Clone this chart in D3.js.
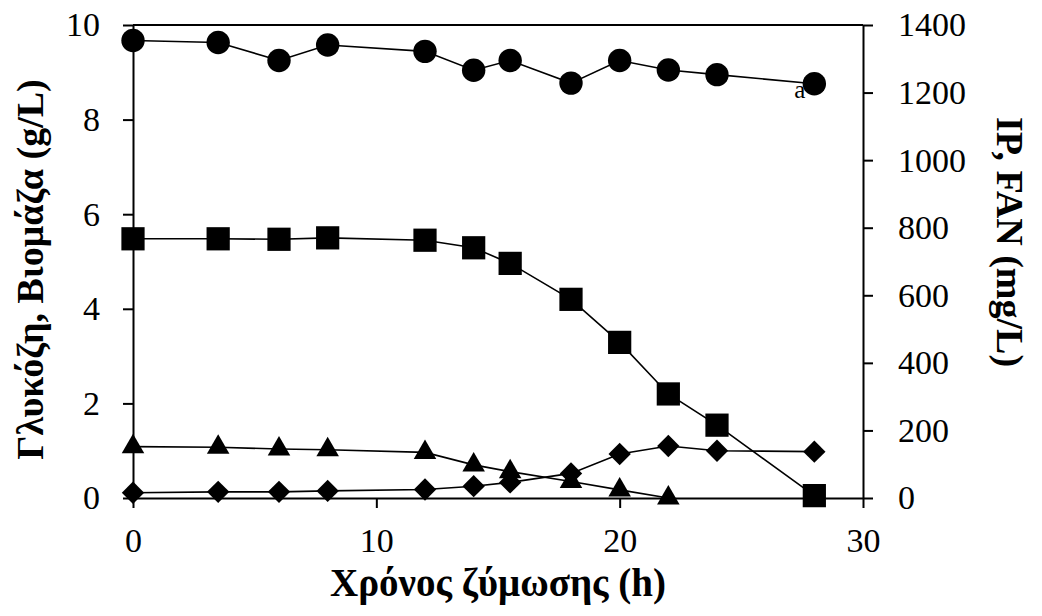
<!DOCTYPE html>
<html>
<head>
<meta charset="utf-8">
<script src="https://cdn.jsdelivr.net/npm/d3@7"></script>
<style>
  body { margin: 0; background: #fff; }
  text { font-family: "Liberation Serif", "Times New Roman", serif; fill: #000; }
</style>
</head>
<body>
<div id="wrapper"></div>
<script>
// time points (h)
const time = [0, 3.5, 6, 8, 12, 14, 15.5, 18, 20, 22, 24, 28]
// right axis, mg/L
const ip = [1354, 1348, 1295, 1341, 1322, 1266, 1295, 1228, 1295, 1267, 1253, 1226]
const fanTime = [0, 3.5, 6, 8, 12, 14, 15.5, 18, 20, 22]
const fan = [152, 150, 145, 143, 135, 98, 78, 49, 24, 0]
// left axis, g/L
const glucose = [5.48, 5.48, 5.47, 5.50, 5.45, 5.29, 4.96, 4.20, 3.29, 2.20, 1.54, 0.05]
const biomass = [0.11, 0.13, 0.13, 0.15, 0.18, 0.25, 0.33, 0.52, 0.93, 1.10, 1.00, 0.98]

const xTicks = [0, 10, 20, 30]
const yLeftTicks = [0, 2, 4, 6, 8, 10]
const yRightTicks = [0, 200, 400, 600, 800, 1000, 1200, 1400]

const xLabel = "Χρόνος ζύμωσης (h)"
const yLeftLabel = "Γλυκόζη, Βιομάζα (g/L)"
const yRightLabel = "IP, FAN (mg/L)"

function drawChart() {
    let dimensions = {
      width: 1042,
      height: 616,
      margin: { top: 25, right: 179, bottom: 118, left: 133 },
    }
    dimensions.boundedWidth = dimensions.width - dimensions.margin.left - dimensions.margin.right
    dimensions.boundedHeight = dimensions.height - dimensions.margin.top - dimensions.margin.bottom

    const wrapper = d3.select("#wrapper")
        .append("svg")
        .attr("width", dimensions.width)
        .attr("height", dimensions.height)

    const bounds = wrapper.append("g")
        .attr("transform", `translate(${dimensions.margin.left}, ${dimensions.margin.top})`)

    const xScaler = d3.scaleLinear().domain([0, 30]).range([0, dimensions.boundedWidth])
    const yLeft = d3.scaleLinear().domain([0, 10]).range([dimensions.boundedHeight, 0])
    const yRight = d3.scaleLinear().domain([0, 1400]).range([dimensions.boundedHeight, 0])

    // top border
    bounds.append("line")
        .attr("x1", 0).attr("x2", dimensions.boundedWidth)
        .attr("y1", 0).attr("y2", 0)
        .attr("stroke", "#000").attr("stroke-width", 2)

    const fontSize = "34px"

    const xAxis = bounds.append("g")
        .attr("transform", `translate(0, ${dimensions.boundedHeight})`)
        .call(d3.axisBottom(xScaler).tickValues(xTicks).tickSize(10).tickPadding(20).tickSizeOuter(0))
    const yAxisL = bounds.append("g")
        .call(d3.axisLeft(yLeft).tickValues(yLeftTicks).tickSize(10).tickPadding(23).tickSizeOuter(0))
    const yAxisR = bounds.append("g")
        .attr("transform", `translate(${dimensions.boundedWidth}, 0)`)
        .call(d3.axisRight(yRight).tickValues(yRightTicks).tickFormat(d3.format("d"))
            .tickSize(10).tickPadding(25).tickSizeOuter(0))

    ;[xAxis, yAxisL, yAxisR].forEach(ax => {
        ax.selectAll("path, line").attr("stroke", "#000").attr("stroke-width", 2)
        ax.selectAll("text")
            .attr("font-family", "'Liberation Serif', serif")
            .attr("font-size", fontSize)
            .attr("fill", "#000")
    })

    // series
    const series = [
        { xs: time, ys: ip, scale: yRight, symbol: d3.symbolCircle, size: 430, rotate: 0 },
        { xs: time, ys: glucose, scale: yLeft, symbol: d3.symbolSquare, size: 540, rotate: 0 },
        { xs: fanTime, ys: fan, scale: yRight, symbol: d3.symbolTriangle, size: 220, rotate: 0 },
        { xs: time, ys: biomass, scale: yLeft, symbol: d3.symbolSquare, size: 250, rotate: 45 },
    ]

    // little "a" mark under the last circle
    bounds.append("text")
        .attr("x", xScaler(28) - 20)
        .attr("y", yRight(1226) + 14)
        .attr("font-size", "25px")
        .text("a")

    series.forEach(s => {
        const pts = s.xs.map((t, i) => [t, s.ys[i]])
        const line = d3.line()
            .x(d => xScaler(d[0]))
            .y(d => s.scale(d[1]))
        bounds.append("path")
            .datum(pts)
            .attr("d", line)
            .attr("fill", "none")
            .attr("stroke", "#000")
            .attr("stroke-width", 1.6)
    })

    series.forEach(s => {
        const pts = s.xs.map((t, i) => [t, s.ys[i]])
        bounds.append("g").selectAll("path")
            .data(pts)
            .enter()
            .append("path")
            .attr("d", d3.symbol().type(s.symbol).size(s.size))
            .attr("transform", d => `translate(${xScaler(d[0])}, ${s.scale(d[1])}) rotate(${s.rotate})`)
            .attr("fill", "#000")
    })

    // axis titles
    wrapper.append("text")
        .attr("x", dimensions.margin.left + dimensions.boundedWidth / 2)
        .attr("y", 596)
        .attr("text-anchor", "middle")
        .attr("font-size", "39px")
        .attr("font-weight", "bold")
        .text(xLabel)

    wrapper.append("text")
        .attr("transform", `translate(43, ${dimensions.margin.top + dimensions.boundedHeight / 2 + 8}) rotate(-90)`)
        .attr("text-anchor", "middle")
        .attr("font-size", "38px")
        .attr("font-weight", "bold")
        .text(yLeftLabel)

    wrapper.append("text")
        .attr("transform", `translate(997, 242) rotate(90)`)
        .attr("text-anchor", "middle")
        .attr("font-size", "38px")
        .attr("font-weight", "bold")
        .text(yRightLabel)
}

drawChart()
</script>
</body>
</html>
